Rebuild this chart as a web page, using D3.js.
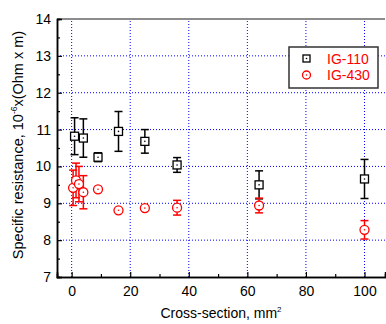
<!DOCTYPE html>
<html>
<head>
<meta charset="utf-8">
<script src="https://cdn.jsdelivr.net/npm/d3@7"></script>
<style>
  body { margin: 0; background: #fff; }
  svg { display: block; font-family: "Liberation Sans", Arial, sans-serif; }
</style>
</head>
<body>
<div id="chart"></div>
<script>
// IG-110 data (cross-section mm2, resistance, error)
const ig110X = [1, 4, 9, 16, 25, 36, 64, 100];
const ig110Y = [10.82, 10.77, 10.25, 10.95, 10.68, 10.04, 9.50, 9.66];
const ig110Err = [0.5, 0.52, 0.12, 0.54, 0.32, 0.2, 0.38, 0.53];

// IG-430 data
const ig430X = [0.5, 1.5, 2.5, 4, 9, 16, 25, 36, 64, 100];
const ig430Y = [9.42, 9.62, 9.52, 9.30, 9.38, 8.81, 8.87, 8.88, 8.94, 8.28];
const ig430Err = [0.48, 0.47, 0.48, 0.45, 0.06, 0.04, 0.05, 0.2, 0.2, 0.25];

const xTicks = [0, 20, 40, 60, 80, 100];
const yTicks = [7, 8, 9, 10, 11, 12, 13, 14];

const width = 386, height = 324;
const margin = { left: 57, right: 1, top: 19, bottom: 47 };

const svg = d3.select('#chart').append('svg')
  .attr('width', width)
  .attr('height', height);

const x = d3.scaleLinear().domain([-5, 107]).range([margin.left, width - margin.right]);
const y = d3.scaleLinear().domain([7, 14]).range([height - margin.bottom, margin.top]);

// grid
const grid = svg.append('g');
grid.selectAll('.gx').data(xTicks).enter().append('line')
  .attr('x1', d => x(d)).attr('x2', d => x(d))
  .attr('y1', y(7)).attr('y2', y(14))
  .attr('stroke', '#0000ff').attr('stroke-width', 1).attr('stroke-dasharray', '1,2');
grid.selectAll('.gy').data(yTicks.slice(1, -1)).enter().append('line')
  .attr('x1', x(-5)).attr('x2', x(107))
  .attr('y1', d => y(d)).attr('y2', d => y(d))
  .attr('stroke', '#0000ff').attr('stroke-width', 1).attr('stroke-dasharray', '1,2');

// top frame
svg.append('line')
  .attr('x1', x(-5)).attr('x2', x(107))
  .attr('y1', y(14)).attr('y2', y(14))
  .attr('stroke', '#666').attr('stroke-width', 1.5);

// axes with inward ticks
const xAxis = svg.append('g').attr('transform', `translate(0,${y(7)})`)
  .call(d3.axisBottom(x).tickValues(xTicks).tickSize(-5).tickPadding(9).tickFormat(d3.format('d')));
const xMinor = svg.append('g').attr('transform', `translate(0,${y(7)})`)
  .call(d3.axisBottom(x).tickValues(d3.range(-0, 101, 10).filter(v => v % 20 !== 0)).tickSize(-3).tickFormat(''));
const yAxis = svg.append('g').attr('transform', `translate(${x(-5)},0)`)
  .call(d3.axisLeft(y).tickValues(yTicks).tickSize(-5).tickPadding(6).tickFormat(d3.format('d')));
const yMinor = svg.append('g').attr('transform', `translate(${x(-5)},0)`)
  .call(d3.axisLeft(y).tickValues(d3.range(7.5, 14, 1)).tickSize(-3).tickFormat(''));

[xAxis, xMinor, yAxis, yMinor].forEach(a => {
  a.select('.domain').attr('stroke', '#000').attr('stroke-width', 1.5);
  a.selectAll('.tick line').attr('stroke', '#000').attr('stroke-width', 1.2);
  a.selectAll('text').attr('font-size', 14).attr('fill', '#000')
    .style('font-family', '"Liberation Sans", Arial, sans-serif');
});

// axis titles
svg.append('text')
  .attr('x', (x(-5) + x(107)) / 2).attr('y', 318)
  .attr('text-anchor', 'middle').attr('font-size', 14)
  .html('Cross-section, mm<tspan dy="-6" font-size="8">2</tspan>');

svg.append('text')
  .attr('transform', `translate(23,${(y(7) + y(14)) / 2 - 3}) rotate(-90)`)
  .attr('text-anchor', 'middle').attr('font-size', 14.5)
  .html('Specific resistance, 10<tspan dy="-6" font-size="8.5">-6</tspan><tspan dy="6">x(Ohm x m)</tspan>');

// series drawing
function drawSeries(xs, ys, errs, color, shape) {
  const data = xs.map((v, i) => ({ x: v, y: ys[i], e: errs[i] }));
  const g = svg.append('g');
  const cap = 4;
  data.forEach(d => {
    const cx = x(d.x);
    g.append('line').attr('x1', cx).attr('x2', cx)
      .attr('y1', y(d.y + d.e)).attr('y2', y(d.y - d.e))
      .attr('stroke', color).attr('stroke-width', 1.5);
    [d.y + d.e, d.y - d.e].forEach(v => {
      g.append('line').attr('x1', cx - cap).attr('x2', cx + cap)
        .attr('y1', y(v)).attr('y2', y(v))
        .attr('stroke', color).attr('stroke-width', 1.5);
    });
  });
  const m = g.selectAll('.m').data(data).enter();
  if (shape === 'square') {
    m.append('rect')
      .attr('x', d => x(d.x) - 4).attr('y', d => y(d.y) - 4)
      .attr('width', 8).attr('height', 8)
      .attr('fill', '#fff').attr('stroke', color).attr('stroke-width', 1.3);
  } else {
    m.append('circle')
      .attr('cx', d => x(d.x)).attr('cy', d => y(d.y)).attr('r', 4.5)
      .attr('fill', '#fff').attr('stroke', color).attr('stroke-width', 1.3);
  }
  m.append('circle')
    .attr('cx', d => x(d.x)).attr('cy', d => y(d.y)).attr('r', 0.8)
    .attr('fill', color);
}

drawSeries(ig110X, ig110Y, ig110Err, '#000', 'square');
drawSeries(ig430X, ig430Y, ig430Err, '#ff0000', 'circle');

// legend
const lg = svg.append('g').attr('transform', 'translate(289,47)');
lg.append('rect').attr('width', 89).attr('height', 41)
  .attr('fill', '#fff').attr('stroke', '#333').attr('stroke-width', 1.5);
lg.append('rect').attr('x', 14).attr('y', 8).attr('width', 7).attr('height', 7)
  .attr('fill', '#fff').attr('stroke', '#000').attr('stroke-width', 1.3);
lg.append('circle').attr('cx', 17.5).attr('cy', 11.5).attr('r', 0.8).attr('fill', '#000');
lg.append('circle').attr('cx', 17.5).attr('cy', 28).attr('r', 4)
  .attr('fill', '#fff').attr('stroke', '#ff0000').attr('stroke-width', 1.3);
lg.append('circle').attr('cx', 17.5).attr('cy', 28).attr('r', 0.8).attr('fill', '#ff0000');
lg.append('text').attr('x', 38).attr('y', 17).attr('font-size', 14).attr('fill', '#ff0000').text('IG-110');
lg.append('text').attr('x', 38).attr('y', 33).attr('font-size', 14).attr('fill', '#ff0000').text('IG-430');
</script>
</body>
</html>
